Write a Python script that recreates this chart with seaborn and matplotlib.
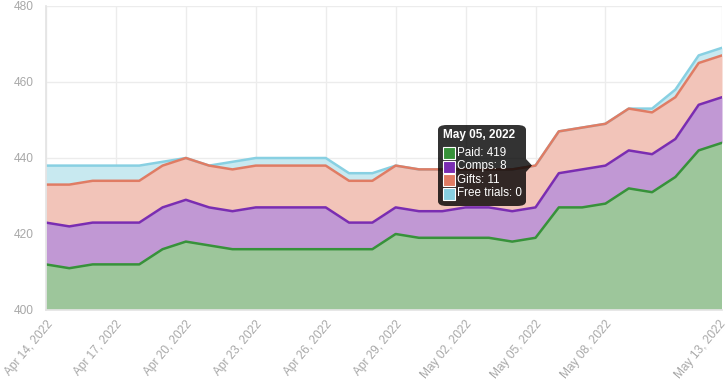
import numpy as np
import pandas as pd
import seaborn as sns
import matplotlib.pyplot as plt
from matplotlib.patches import FancyBboxPatch, Rectangle, Polygon
from matplotlib.transforms import ScaledTranslation

# ==============================
# DATA
# ==============================
dates = pd.date_range("2022-04-14", "2022-05-13", freq="D")

paid = [412, 411, 412, 412, 412, 416, 418, 417, 416, 416,
        416, 416, 416, 416, 416, 420, 419, 419, 419, 419,
        418, 419, 427, 427, 428, 432, 431, 435, 442, 444]
comps = [11, 11, 11, 11, 11, 11, 11, 10, 10, 11,
         11, 11, 11, 7, 7, 7, 7, 7, 8, 8,
         8, 8, 9, 10, 10, 10, 10, 10, 12, 12]
gifts = [10, 11, 11, 11, 11, 11, 11, 11, 11, 11,
         11, 11, 11, 11, 11, 11, 11, 11, 10, 10,
         11, 11, 11, 11, 11, 11, 11, 11, 11, 11]
free_trials = [5, 5, 4, 4, 4, 1, 0, 0, 2, 2,
               2, 2, 2, 2, 2, 0, 0, 0, 0, 0,
               0, 0, 0, 0, 0, 0, 1, 2, 2, 2]

series_names = ["Paid", "Comps", "Gifts", "Free trials"]
line_colors = ["#37923a", "#7a2db2", "#e07c64", "#88d0e2"]
fill_colors = ["#9dc69b", "#c198d4", "#f2c4b9", "#c8e9f0"]

tick_idx = [0, 3, 6, 9, 12, 15, 18, 21, 24, 29]
tooltip_idx = 21

# ==============================
# STYLE
# ==============================
sns.set_theme(style="white")
plt.rcParams["font.family"] = ["Liberation Sans", "DejaVu Sans"]

W, H = 728, 392
fig = plt.figure(figsize=(W / 100, H / 100), dpi=100)
ax = fig.add_axes([46 / W, 1 - 310 / H, 676 / W, 304 / H])

# ==============================
# STACKED AREAS
# ==============================
values = np.array([paid, comps, gifts, free_trials], dtype=float)
tops = values.cumsum(axis=0)
bottoms = np.vstack([np.zeros(len(dates)), tops[:-1]])

for i, name in enumerate(series_names):
    ax.fill_between(dates, bottoms[i], tops[i], color=fill_colors[i], lw=0, zorder=1)
for i, name in enumerate(series_names):
    sns.lineplot(x=dates, y=tops[i], color=line_colors[i], lw=1.8, ax=ax,
                 zorder=2 + (3 - i) * 0.1, legend=False)

# ==============================
# AXES
# ==============================
ax.set_xlim(dates[0], dates[-1])
ax.set_ylim(400, 480)
ax.set_yticks(range(400, 481, 20))
ax.set_xticks(dates[tick_idx])
ax.set_xticklabels([d.strftime("%b %d, %Y") for d in dates[tick_idx]],
                   rotation=50, ha="right", rotation_mode="anchor")
ax.tick_params(axis="both", length=0, labelsize=8.6, colors="#a8a8a8")
ax.tick_params(axis="x", pad=6)
ax.tick_params(axis="y", pad=9)
ax.grid(True, color="#ececec", lw=1)
ax.set_axisbelow(True)
for s in ["top", "right"]:
    ax.spines[s].set_visible(False)
ax.spines["left"].set_color("#e4e4e4")
ax.spines["bottom"].set_color("#e4e4e4")
ax.set_xlabel("")
ax.set_ylabel("")

# nudge the last date label so it stays inside the canvas
last = ax.get_xticklabels()[-1]
last.set_transform(last.get_transform() + ScaledTranslation(-3 / 100, 0, fig.dpi_scale_trans))

# ==============================
# TOOLTIP
# ==============================
def fx(x):
    return x / W

def fy(y):
    return 1 - y / H

box_l, box_t, box_r, box_b = 438, 125, 526, 206
fig.patches.append(FancyBboxPatch((fx(box_l), fy(box_b)), fx(box_r - box_l), (box_b - box_t) / H,
                                  boxstyle="round,pad=0,rounding_size=0.012",
                                  transform=fig.transFigure, fc="black", ec="none", alpha=0.8,
                                  zorder=10))
fig.patches.append(Polygon([(fx(box_r), fy(159)), (fx(532), fy(165.5)), (fx(box_r), fy(172))],
                           closed=True, transform=fig.transFigure, fc="black", ec="none",
                           alpha=0.8, zorder=10))
fig.text(fx(443), fy(135), dates[tooltip_idx].strftime("%b %d, %Y"), color="white",
         fontsize=8.5, fontweight="bold", va="center", ha="left", zorder=11)
row_y = [153, 166.5, 180, 193.5]
for i, name in enumerate(series_names):
    fig.patches.append(Rectangle((fx(443), fy(row_y[i] + 6)), 12 / W, 12 / H,
                                 transform=fig.transFigure, fc=line_colors[i],
                                 ec="white", lw=0.8, zorder=11))
    fig.text(fx(457), fy(row_y[i]), f"{name}: {int(values[i][tooltip_idx])}", color="white",
             fontsize=8.4, va="center", ha="left", zorder=11)

plt.savefig("out.png", dpi=100)
